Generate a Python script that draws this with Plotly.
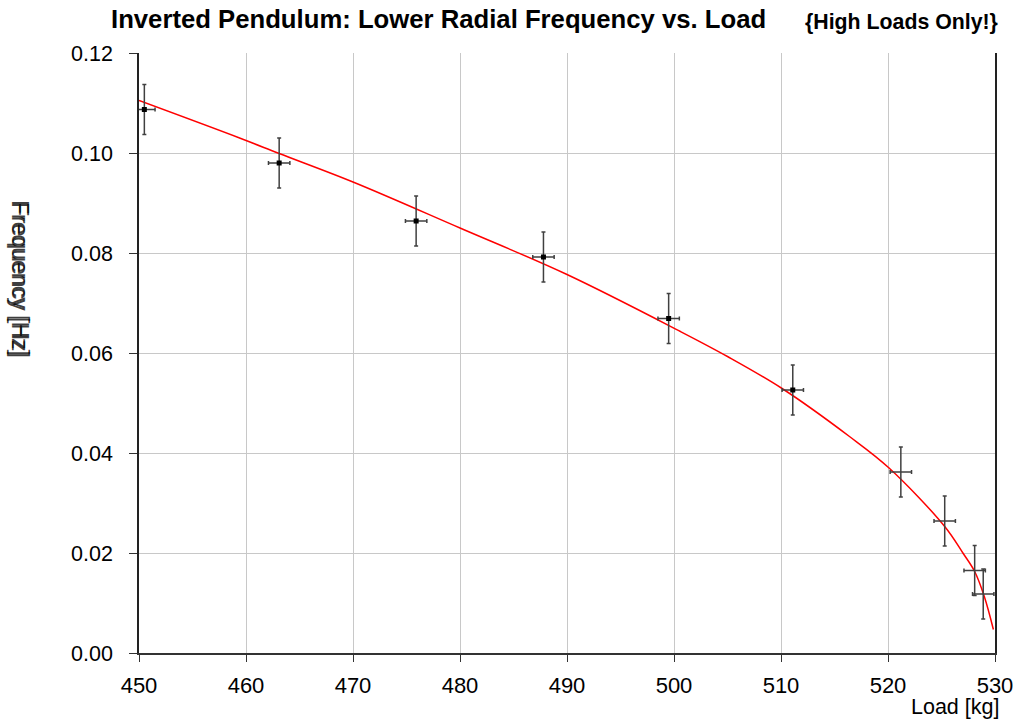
import plotly.graph_objects as go

# measured points
load = [450.5, 463.1, 475.9, 487.8, 499.5, 511.1]
freq = [0.1087, 0.0980, 0.0864, 0.0792, 0.0669, 0.0526]
load_b = [521.2, 525.3, 528.1, 528.9]
freq_b = [0.0362, 0.0264, 0.0165, 0.0118]
load_err = 1.0
freq_err = 0.005

# fitted curve
fit_load = [450.0, 459.4, 463.1, 470.0, 480.0, 490.0, 500.6, 505.0, 510.1, 516.4, 520.1, 525.3, 527.0, 528.1, 529.0, 529.85]
fit_freq = [0.1105, 0.1030, 0.0999, 0.0942, 0.0850, 0.0757, 0.0643, 0.0593, 0.0529, 0.0433, 0.0370, 0.0253, 0.0200, 0.0163, 0.0113, 0.0047]

x_ticks = [450, 460, 470, 480, 490, 500, 510, 520, 530]
y_ticks = [0.00, 0.02, 0.04, 0.06, 0.08, 0.10, 0.12]

FONT = "Liberation Sans, Arial, sans-serif"
ERRC = "#404040"

fig = go.Figure()
fig.add_trace(go.Scatter(
    x=fit_load, y=fit_freq, mode="lines", line=dict(color="red", width=1.5, shape="spline"),
    hoverinfo="skip"))
fig.add_trace(go.Scatter(
    x=load, y=freq, mode="markers",
    marker=dict(symbol="square", size=5, color="black"),
    error_x=dict(type="constant", value=load_err, color=ERRC, thickness=1.5, width=2),
    error_y=dict(type="constant", value=freq_err, color=ERRC, thickness=1.5, width=2)))
fig.add_trace(go.Scatter(
    x=load_b, y=freq_b, mode="markers",
    marker=dict(symbol="square", size=1, color="rgba(0,0,0,0)"),
    error_x=dict(type="constant", value=load_err, color=ERRC, thickness=1.5, width=2),
    error_y=dict(type="constant", value=freq_err, color=ERRC, thickness=1.5, width=2)))

# plot area spans x 139..995, y 53..653 in the window
fig.update_layout(
    width=1018, height=719,
    margin=dict(l=139, r=23, t=53, b=66),
    paper_bgcolor="white", plot_bgcolor="white",
    showlegend=False,
    font=dict(family=FONT, size=22, color="black"),
    xaxis=dict(range=[450, 530], tickvals=x_ticks, ticktext=[str(v) for v in x_ticks],
               showgrid=True, gridcolor="#c8c8c8", gridwidth=1,
               showline=True, linecolor="#333333", linewidth=1.5,
               ticks="outside", ticklen=7, tickcolor="#333333",
               zeroline=False, tickfont=dict(size=22), ticklabelstandoff=5,
               automargin=False),
    yaxis=dict(range=[0, 0.12], tickvals=y_ticks, ticktext=[f"{v:.2f}" for v in y_ticks],
               showgrid=True, gridcolor="#c8c8c8", gridwidth=1,
               showline=True, linecolor="#222222", linewidth=1.5, mirror=True,
               ticks="outside", ticklen=8, tickcolor="#333333",
               zeroline=False, tickfont=dict(size=21.5), ticklabelstandoff=12,
               automargin=False),
)

PW, PH = 856, 600
fig.add_annotation(text="<b>Inverted Pendulum: Lower Radial Frequency vs. Load</b>",
                   xref="paper", yref="paper", x=(438 - 139) / PW, y=1 + (53 - 19) / PH,
                   xanchor="center", yanchor="middle", showarrow=False,
                   font=dict(size=25.7, family=FONT))
fig.add_annotation(text="<b>{High Loads Only!}</b>",
                   xref="paper", yref="paper", x=(901 - 139) / PW, y=1 + (53 - 22) / PH,
                   xanchor="center", yanchor="middle", showarrow=False,
                   font=dict(size=21.3, family=FONT))
for ys in (0, -2):
    fig.add_annotation(text="Frequency [Hz]", textangle=90,
                       xref="paper", yref="paper", x=(20 - 139) / PW, y=1 - (278 - 53) / PH,
                       xanchor="center", yanchor="middle", showarrow=False, yshift=ys,
                       font=dict(size=23, family=FONT, color="rgba(0,0,0,0.75)"))
fig.add_annotation(text="Load [kg]",
                   xref="paper", yref="paper", x=(1001 - 139) / PW, y=-(707 - 653) / PH,
                   xanchor="right", yanchor="middle", showarrow=False,
                   font=dict(size=21.5, family=FONT))

fig.write_html("out.html", config={"responsive": False, "displayModeBar": False},
               post_script="document.body.style.margin='0';document.body.style.overflow='hidden';")
